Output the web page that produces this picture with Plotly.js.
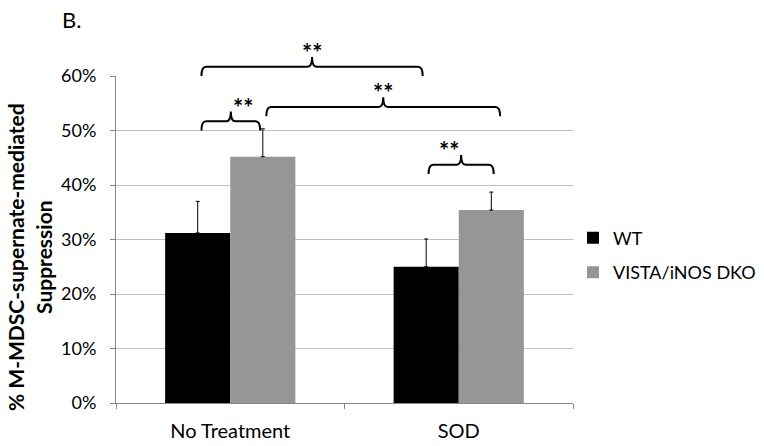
<!DOCTYPE html>
<html>
<head>
<meta charset="utf-8">
<script src="https://cdn.plot.ly/plotly-3.0.1.min.js"></script>
<style>
  body { margin: 0; background: #fff; }
  #chart { width: 764px; height: 446px; }
</style>
</head>
<body>
<div id="chart"></div>
<script>
// values (fractions, axis shows %)
var groups = ['No Treatment', 'SOD'];
var groupPos = [0, 1];

var wtValues = [0.312, 0.250];
var wtErrors = [0.058, 0.051];

var dkoValues = [0.452, 0.354];
var dkoErrors = [0.051, 0.033];

// significance brackets: [left x, right x, base y] in data units
var brackets = [
  [-0.126, 0.842, 0.600],
  [-0.126, 0.131, 0.500],
  [0.158, 1.181, 0.526],
  [0.868, 1.153, 0.420]
];

var font = 'Lato, "Open Sans", sans-serif';
var xRange = [-0.5, 1.5];
var yRange = [0, 0.6];

// data -> paper so the top bracket is not clipped by the plot area
function px(x) { return (x - xRange[0]) / (xRange[1] - xRange[0]); }
function py(y) { return (y - yRange[0]) / (yRange[1] - yRange[0]); }

var traceWT = {
  x: groupPos,
  y: wtValues,
  name: 'WT',
  legendgroup: 'wt',
  type: 'bar',
  marker: {color: '#000000'},
  error_y: {type: 'data', array: wtErrors, symmetric: false, color: '#000000', thickness: 1, width: 2}
};

var traceDKO = {
  x: groupPos,
  y: dkoValues,
  name: 'VISTA/iNOS DKO',
  legendgroup: 'dko',
  type: 'bar',
  marker: {color: '#969696'},
  error_y: {type: 'data', array: dkoErrors, symmetric: false, color: '#000000', thickness: 1, width: 2}
};

function bracketPath(b) {
  var x0 = px(b[0]), x1 = px(b[1]), y0 = py(b[2]);
  var xm = (x0 + x1) / 2;
  var h = py(0.017), tip = py(0.035), dx = 0.01;
  var y1 = y0 + h;
  return 'M' + x0 + ',' + y0 +
    ' Q' + x0 + ',' + y1 + ' ' + (x0 + dx) + ',' + y1 +
    ' L' + (xm - dx) + ',' + y1 +
    ' Q' + xm + ',' + y1 + ' ' + xm + ',' + (y0 + tip) +
    ' Q' + xm + ',' + y1 + ' ' + (xm + dx) + ',' + y1 +
    ' L' + (x1 - dx) + ',' + y1 +
    ' Q' + x1 + ',' + y1 + ' ' + x1 + ',' + y0;
}

var shapes = brackets.map(function(b) {
  return {type: 'path', xref: 'paper', yref: 'paper', path: bracketPath(b), line: {color: '#000', width: 2}};
});

var annotations = brackets.map(function(b) {
  return {
    x: px((b[0] + b[1]) / 2), y: py(b[2] + 0.043), xref: 'paper', yref: 'paper',
    text: '<b>**</b>', showarrow: false, yanchor: 'middle',
    font: {family: font, size: 24, color: '#000'}
  };
});
annotations.push({
  xref: 'paper', yref: 'paper', x: -0.122, y: 1.22, xanchor: 'left', yanchor: 'top',
  text: 'B.', showarrow: false, font: {family: font, size: 22, color: '#000'}
});
// y title as annotation so it can sit a little below the plot centre
annotations.push({
  xref: 'paper', yref: 'paper', x: -0.19, y: 0.447, xanchor: 'center', yanchor: 'middle',
  textangle: -90, showarrow: false,
  text: '<b>% M-MDSC-supernate-mediated<br>Suppression</b>',
  font: {family: font, size: 21, color: '#000'}
});

var layout = {
  width: 764,
  height: 446,
  margin: {l: 116, r: 189, t: 76, b: 43},
  paper_bgcolor: '#fff',
  plot_bgcolor: '#fff',
  barmode: 'group',
  bargap: 0.43,
  bargroupgap: 0,
  font: {family: font, size: 17, color: '#000'},
  xaxis: {
    range: xRange,
    tickvals: groupPos,
    ticktext: groups,
    ticks: '',
    ticklabelstandoff: 10,
    showgrid: false,
    showline: true,
    linecolor: '#888',
    linewidth: 1,
    zeroline: false,
    minor: {tickvals: [-0.5, 0.5, 1.5], ticks: 'outside', ticklen: 5, tickcolor: '#888', showgrid: false},
    tickfont: {family: font, size: 20}
  },
  yaxis: {
    range: yRange,
    dtick: 0.1,
    tickformat: '.0%',
    ticks: 'outside',
    ticklen: 5,
    tickcolor: '#888',
    ticklabelstandoff: 10,
    showline: true,
    linecolor: '#888',
    gridcolor: '#c0c0c0',
    zeroline: false,
    tickfont: {family: font, size: 18}
  },
  legend: {
    xref: 'container', yref: 'container',
    x: 0.75, y: 0.428, xanchor: 'left', yanchor: 'middle',
    font: {family: font, size: 18},
    tracegroupgap: 8
  },
  shapes: shapes,
  annotations: annotations
};

Plotly.newPlot('chart', [traceWT, traceDKO], layout, {displayModeBar: false});
</script>
</body>
</html>
